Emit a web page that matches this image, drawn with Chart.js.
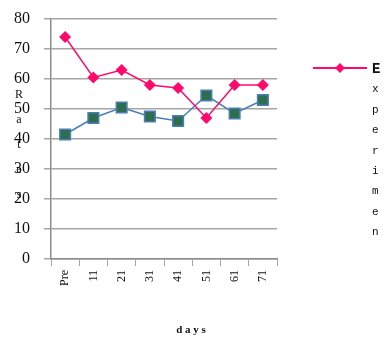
<!DOCTYPE html>
<html>
<head>
<meta charset="utf-8">
<script src="https://cdn.jsdelivr.net/npm/chart.js@4/dist/chart.umd.min.js"></script>
<style>
  html, body { margin: 0; padding: 0; background: #ffffff; }
  #wrap { width: 385px; height: 340px; }
</style>
</head>
<body>
<div id="wrap"><canvas id="c" width="385" height="340"></canvas></div>
<script>
// Day labels along the x axis
const days = ['Pre', '11', '21', '31', '41', '51', '61', '71'];
// Experimental group scores
const experimental = [74, 60.5, 63, 58, 57, 47, 58, 58];
// Control group scores
const control = [41.5, 47, 50.5, 47.5, 46, 54.5, 48.5, 53];
// Y axis ticks
const yTicks = [0, 10, 20, 30, 40, 50, 60, 70, 80];
const yTitle = 'Rates';
const xTitle = 'days';
const legendText = 'Experimen';

const PINK = '#ff0a6c';
const BLUE = '#4a7ebb';
const GREEN = '#2f6e4d';
const GRID = '#a6a6a6';

// Draws the stacked y title, the x title and the one-entry legend
const decorations = {
  id: 'decorations',
  afterDraw(chart) {
    const ctx = chart.ctx;
    ctx.save();
    ctx.fillStyle = '#111';
    ctx.textAlign = 'center';
    ctx.textBaseline = 'middle';
    ctx.font = '12px "Liberation Serif", serif';
    const letters = yTitle.split('');
    letters.forEach((ch, i) => ctx.fillText(ch, 19, 95 + i * 25));

    ctx.font = 'bold 11px "Liberation Serif", serif';
    ctx.fillText(xTitle.split('').join(' '), 191, 330);

    // legend sample
    ctx.strokeStyle = PINK;
    ctx.lineWidth = 2;
    ctx.beginPath();
    ctx.moveTo(313, 68);
    ctx.lineTo(367, 68);
    ctx.stroke();
    ctx.fillStyle = PINK;
    ctx.beginPath();
    ctx.moveTo(340, 63);
    ctx.lineTo(345, 68);
    ctx.lineTo(340, 73);
    ctx.lineTo(335, 68);
    ctx.closePath();
    ctx.fill();

    ctx.fillStyle = '#111';
    ctx.textAlign = 'left';
    legendText.split('').forEach((ch, i) => {
      ctx.font = (i === 0 ? 'bold 14px' : '11px') + ' "Liberation Mono", monospace';
      ctx.fillText(ch, 372, 69 + i * 20.4);
    });
    ctx.restore();
  }
};

new Chart(document.getElementById('c'), {
  type: 'line',
  data: {
    labels: days,
    datasets: [
      {
        label: 'Experimental',
        data: experimental,
        borderColor: PINK,
        backgroundColor: PINK,
        borderWidth: 1.5,
        pointStyle: 'rectRot',
        pointRadius: 6,
        pointBorderWidth: 0,
        pointBackgroundColor: PINK,
        tension: 0
      },
      {
        label: 'Control',
        data: control,
        borderColor: BLUE,
        backgroundColor: GREEN,
        borderWidth: 1.5,
        pointStyle: 'rect',
        pointRadius: 7.5,
        pointBorderWidth: 1.5,
        pointBorderColor: BLUE,
        pointBackgroundColor: GREEN,
        tension: 0
      }
    ]
  },
  options: {
    responsive: false,
    animation: false,
    events: [],
    layout: { padding: { left: 0, right: 108, top: 19, bottom: 0 } },
    plugins: {
      legend: { display: false },
      tooltip: { enabled: false }
    },
    scales: {
      x: {
        offset: true,
        afterFit(scale) { scale.height = 81; },
        border: { color: '#8c8c8c', width: 1.5 },
        grid: { drawOnChartArea: false, drawTicks: true, tickLength: 7, color: GRID, offset: true },
        ticks: {
          minRotation: 90,
          maxRotation: 90,
          padding: 4,
          color: '#111',
          font: { family: '"Liberation Serif", serif', size: 12 }
        }
      },
      y: {
        min: 0,
        max: 80,
        afterFit(scale) {
          scale.width = 51;
          scale.paddingTop = 0;
          scale.paddingBottom = 0;
        },
        afterBuildTicks(scale) { scale.ticks = yTicks.map(v => ({ value: v })); },
        border: { color: '#8c8c8c', width: 1.5 },
        grid: { color: GRID, lineWidth: 1.5, tickLength: 7 },
        ticks: {
          padding: 14,
          color: '#111',
          font: { family: '"Liberation Serif", serif', size: 16 }
        }
      }
    }
  },
  plugins: [decorations]
});
</script>
</body>
</html>
